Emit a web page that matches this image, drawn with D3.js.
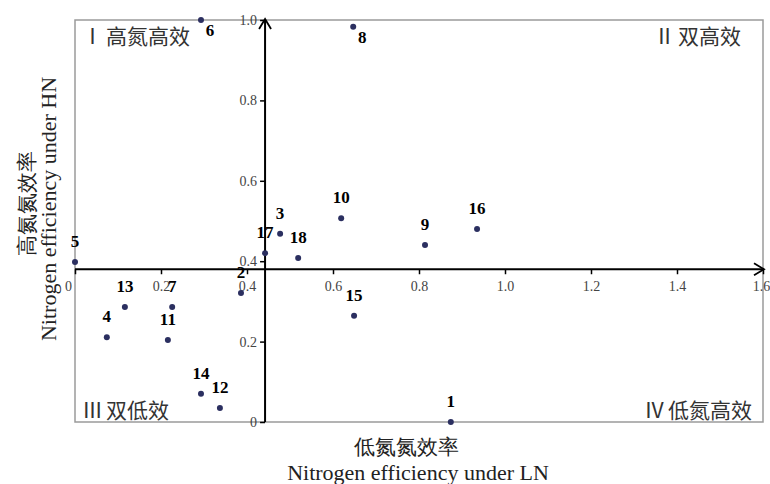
<!DOCTYPE html>
<html>
<head>
<meta charset="utf-8">
<script src="https://cdn.jsdelivr.net/npm/d3@7"></script>
<style>
body { margin: 0; background: #fff; }
text { font-family: "Liberation Serif", "Times New Roman", serif; }
</style>
</head>
<body>
<div id="chart"></div>
<script>
var width = 770;
var height = 484;

// genotype numbers and their N efficiency under LN (x) and HN (y)
var ids = ["1","2","3","4","5","6","7","8","9","10","11","12","13","14","15","16","17","18"];
var lnEff = [0.874, 0.386, 0.477, 0.074, 0.0, 0.293, 0.226, 0.647, 0.814, 0.619, 0.216, 0.337, 0.116, 0.293, 0.649, 0.935, 0.442, 0.519];
var hnEff = [0.0, 0.321, 0.468, 0.211, 0.398, 1.0, 0.286, 0.983, 0.440, 0.507, 0.204, 0.035, 0.286, 0.070, 0.264, 0.480, 0.420, 0.408];
// label placement: "t" above the dot, "r" to the lower right
var labelPos = ["t","t","t","t","t","r","t","r","t","t","t","t","t","t","t","t","t","t"];

var xTicks = [0, 0.2, 0.4, 0.6, 0.8, 1.0, 1.2, 1.4, 1.6];
var yTicks = [0, 0.2, 0.4, 0.6, 0.8, 1.0];
var xCross = 0.442;   // mean LN efficiency, where the vertical axis sits
var yCross = 0.38;    // mean HN efficiency, where the horizontal axis sits

var numerals = ["Ⅰ", "Ⅱ", "Ⅲ", "Ⅳ"];
var quadrants = ["高氮高效", "双高效", "双低效", "低氮高效"];

var x = d3.scaleLinear().domain([0, 1.6]).range([75, 763]);
var y = d3.scaleLinear().domain([0, 1]).range([422, 20]);

var svg = d3.select("#chart")
	.append("svg")
		.attr("width", width)
		.attr("height", height);

// outer frame
svg.append("rect")
	.attr("x", x(0))
	.attr("y", y(1))
	.attr("width", x(1.6) - x(0))
	.attr("height", y(0) - y(1))
	.attr("fill", "none")
	.attr("stroke", "#9a9a9a")
	.attr("stroke-width", 1.5);

var fmt = function (d) { return d === 0 ? "0" : d3.format(".1f")(d); };

// horizontal axis
var gx = svg.append("g")
	.attr("transform", "translate(0," + y(yCross) + ")")
	.call(d3.axisBottom(x).tickValues(xTicks).tickFormat(fmt).tickSize(5).tickPadding(7));
gx.attr("font-family", "Liberation Serif").attr("font-size", 14);
gx.select(".domain").attr("stroke", "#000").attr("stroke-width", 2).attr("d", "M" + x(0) + ",0H" + (x(1.6) + 1));
gx.selectAll(".tick line").attr("stroke", "#000").attr("stroke-width", 1.5);
gx.selectAll(".tick text").attr("fill", "#444");
gx.selectAll(".tick").filter(function (d) { return d === 0; }).select("text").attr("dx", -7);
gx.selectAll(".tick").filter(function (d) { return d === 1.6; }).select("text").attr("dx", -2);

// vertical axis
var gy = svg.append("g")
	.attr("transform", "translate(" + x(xCross) + ",0)")
	.call(d3.axisLeft(y).tickValues(yTicks).tickFormat(fmt).tickSize(5).tickPadding(3));
gy.attr("font-family", "Liberation Serif").attr("font-size", 14);
gy.select(".domain").attr("stroke", "#000").attr("stroke-width", 2).attr("d", "M0," + y(0) + "V" + (y(1) - 1));
gy.selectAll(".tick line").attr("stroke", "#000").attr("stroke-width", 1.5);
gy.selectAll(".tick text").attr("fill", "#444");

// arrow heads
svg.append("path")
	.attr("d", "M" + (x(1.6) - 9) + "," + (y(yCross) - 6) + "L" + (x(1.6) + 1) + "," + y(yCross) + "L" + (x(1.6) - 9) + "," + (y(yCross) + 6))
	.attr("fill", "none").attr("stroke", "#000").attr("stroke-width", 1.8);
svg.append("path")
	.attr("d", "M" + (x(xCross) - 6) + "," + (y(1) + 9) + "L" + x(xCross) + "," + (y(1) - 1) + "L" + (x(xCross) + 6) + "," + (y(1) + 9))
	.attr("fill", "none").attr("stroke", "#000").attr("stroke-width", 1.8);

var data = ids.map(function (d, i) { return {id: d, lx: lnEff[i], hy: hnEff[i], pos: labelPos[i]}; });

svg.selectAll("circle")
	.data(data)
	.enter()
		.append("circle")
			.attr("cx", function (d) { return x(d.lx); })
			.attr("cy", function (d) { return y(d.hy); })
			.attr("r", 3)
			.attr("fill", "#2b2f60");

svg.selectAll("text.lab")
	.data(data)
	.enter()
		.append("text")
			.attr("class", "lab")
			.attr("x", function (d) { return x(d.lx) + (d.pos === "r" ? 9 : 0); })
			.attr("y", function (d) { return y(d.hy) + (d.pos === "r" ? 16 : -15); })
			.attr("text-anchor", "middle")
			.style("font-size", "17px")
			.style("font-weight", "bold")
			.text(function (d) { return d.id; });

// quadrant names: roman numeral, then the Chinese name
var qx = [82, 741, 82, 752];
var qy = [44, 44, 418, 418];
var qa = ["start", "end", "start", "end"];
var qt = svg.selectAll("text.quad")
	.data(quadrants)
	.enter()
		.append("text")
			.attr("class", "quad")
			.attr("x", function (d, i) { return qx[i]; })
			.attr("y", function (d, i) { return qy[i]; })
			.attr("text-anchor", function (d, i) { return qa[i]; })
			.attr("fill", "#333")
			.style("font-size", "21px");
qt.append("tspan")
	.style("font-family", "'Noto Sans CJK SC'")
	.text(function (d, i) { return numerals[i]; });
qt.append("tspan")
	.attr("dx", 3)
	.style("font-family", "'Noto Sans CJK SC'")
	.text(function (d) { return d; });

// axis titles
svg.append("text")
	.attr("x", 406).attr("y", 454)
	.attr("text-anchor", "middle")
	.attr("fill", "#222")
	.style("font-size", "21px")
	.text("低氮氮效率");
svg.append("text")
	.attr("x", 418).attr("y", 480)
	.attr("text-anchor", "middle")
	.attr("fill", "#222")
	.style("font-size", "22px")
	.text("Nitrogen efficiency under LN");
svg.append("text")
	.attr("transform", "translate(34,203) rotate(-90)")
	.attr("text-anchor", "middle")
	.attr("fill", "#222")
	.style("font-size", "21px")
	.text("高氮氮效率");
svg.append("text")
	.attr("transform", "translate(56,209) rotate(-90)")
	.attr("text-anchor", "middle")
	.attr("fill", "#222")
	.style("font-size", "22px")
	.text("Nitrogen efficiency under HN");
</script>
</body>
</html>
